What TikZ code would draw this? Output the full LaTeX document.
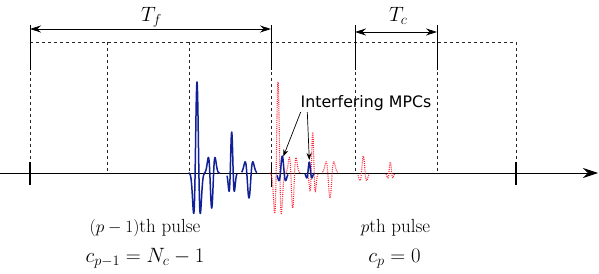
\documentclass[tikz,border=0pt]{standalone}
\usepackage{fontspec}
\newfontfamily\dejavu{DejaVu Sans}
\usetikzlibrary{arrows.meta}
\definecolor{pulseblue}{RGB}{16,32,150}
\definecolor{mpcred}{RGB}{255,36,56}
\begin{document}
\begin{tikzpicture}[x=1pt,y=-1pt,
  declare function={rk(\tx,\ce,\am,\sg)=\am*(1-((\tx-\ce)/\sg)*((\tx-\ce)/\sg))*exp(-min(0.5*((\tx-\ce)/\sg)*((\tx-\ce)/\sg),20));},
  framel/.style={dashed, line width=0.8pt, black!85},
  extl/.style={line width=0.8pt},
  tickl/.style={line width=1.2pt},
  diml/.style={{Stealth[length=11pt,width=7pt]}-{Stealth[length=11pt,width=7pt]}, line width=0.8pt},
  bluew/.style={pulseblue, line width=1.5pt, line join=round},
  redw/.style={mpcred, line width=1.1pt, dash pattern=on 1pt off 1.1pt},
  plbl/.style={font=\fontsize{19}{22}\selectfont, anchor=base},
  clbl/.style={font=\fontsize{20}{24}\selectfont, anchor=base},
  tlbl/.style={font=\fontsize{22}{26}\selectfont, anchor=base},
  mpcarrow/.style={-{Stealth[length=7pt,width=5pt]}, line width=0.7pt},
]
\useasboundingbox (0,0) rectangle (599,273);

% key coordinates
\coordinate (ax0) at (0,173);
\coordinate (ax1) at (598,173);
\coordinate (tf0) at (30,29);
\coordinate (tf1) at (271,29);
\coordinate (tc0) at (355,32);
\coordinate (tc1) at (437,32);

% dashed chip frame
\draw[framel] (30,42) -- (516,42);
\foreach \xx in {30,107,189,271,355,437,516}
  \draw[framel] (\xx,42) -- (\xx,173);

% solid extension lines
\foreach \xx in {30,271,355,437}
  \draw[extl] (\xx,25) -- (\xx,70);

% dimension arrows
\draw[diml] (tf0) -- (tf1);
\draw[diml] (tc0) -- (tc1);
\node[tlbl] (Tf) at (151.5,21.5) {$T_f$};
\node[tlbl] (Tc) at (398.3,21.7) {$T_c$};

% time axis
\draw[line width=0.9pt, -{Stealth[length=15pt,width=10pt]}] (ax0) -- (ax1);
\foreach \xx/\ya/\yb in {30/162/185,271.5/163/187,516/162/185}
  \draw[tickl] (\xx,\ya) -- (\xx,\yb);

% red dotted p-th pulse (shifted copy)
\begin{scope}[shift={(81,0)}]
\draw[redw] plot[domain=188.5:220, samples=160] (\x, {173-rk(\x,197,91,1.9)-rk(\x,211.7,-35,1.9)});
\draw[redw] plot[domain=227:237, samples=60] (\x, {173-rk(\x,231.7,41,1.5)});
\draw[redw] plot[domain=241.5:257, samples=80] (\x, {173-rk(\x,249,-25,2.2)});
\draw[redw] plot[domain=277:288, samples=60] (\x, {173-rk(\x,282.3,17,1.9)});
\draw[redw] plot[domain=305:314, samples=50] (\x, {173-rk(\x,309.3,11,1.45)});
\end{scope}

% blue (p-1)-th pulse
\draw[bluew] plot[domain=188.5:220, samples=160] (\x, {173-rk(\x,197,91,1.9)-rk(\x,211.7,-35,1.9)});
\draw[bluew] plot[domain=227:237, samples=60] (\x, {173-rk(\x,231.7,41,1.5)});
\draw[bluew] plot[domain=241.5:257, samples=80] (\x, {173-rk(\x,249,-25,2.2)});
\draw[bluew] plot[domain=277:288, samples=60] (\x, {173-rk(\x,282.3,17,1.9)});
\draw[bluew] plot[domain=305:314, samples=50] (\x, {173-rk(\x,309.3,11,1.45)});

% interfering MPC label and arrows
\node[font=\dejavu\fontsize{15.8}{19}\selectfont, anchor=base] (mpc) at (366,107.5) {Interfering MPCs};
\coordinate (s1) at (300.7,112);
\coordinate (s2) at (307.3,112);
\coordinate (m1) at (283.3,156.5);
\coordinate (m2) at (309.3,160);
\draw[mpcarrow] (s1) -- (m1);
\draw[mpcarrow] (s2) -- (m2);

% bottom labels
\node[plbl] (pl1) at (145,232) {$(p-1)$th pulse};
\node[clbl] (cl1) at (145,262) {$c_{p-1}=N_c-1$};
\node[plbl] (pl2) at (395.5,232) {$p$th pulse};
\node[clbl] (cl2) at (394.5,262) {$c_p=0$};
\end{tikzpicture}
\end{document}
